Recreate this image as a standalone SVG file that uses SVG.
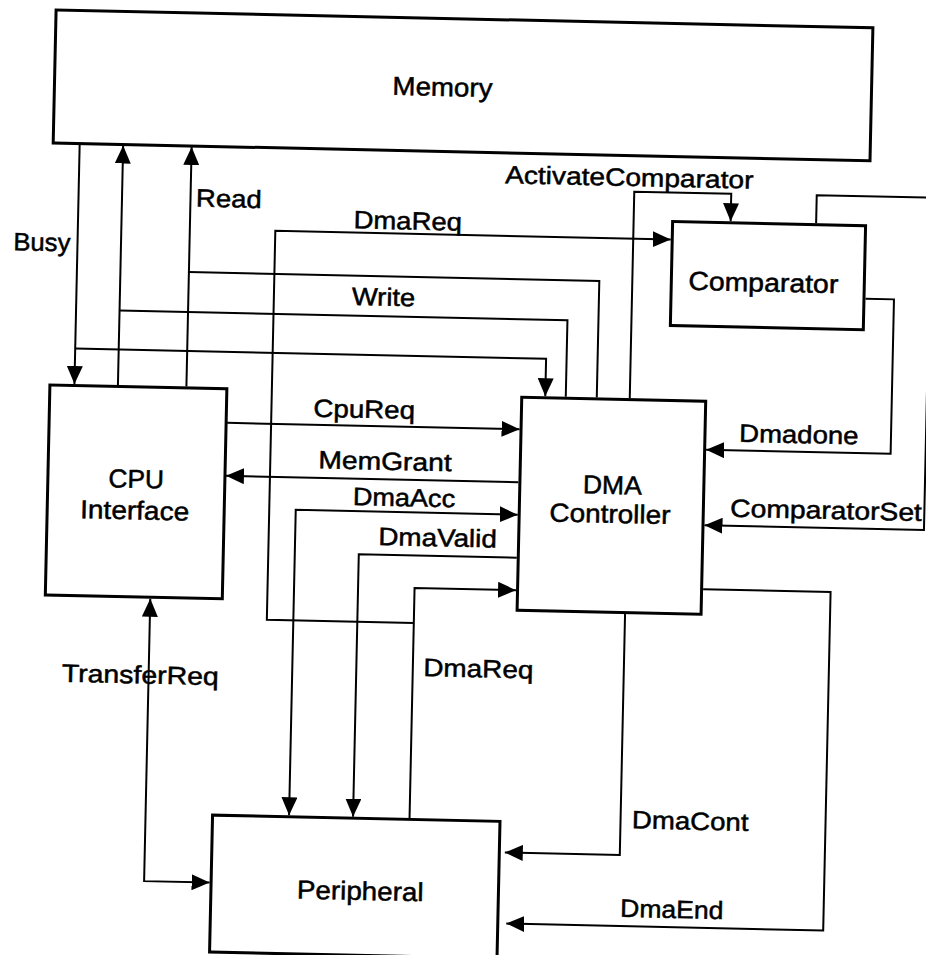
<svg xmlns="http://www.w3.org/2000/svg" width="926" height="955" viewBox="0 0 926 955">
<style>
.box{fill:#fff;stroke:#000;stroke-width:3}
.c{fill:none;stroke:#000;stroke-width:2}
.a{marker-end:url(#ah)}
.b{marker-start:url(#ah);marker-end:url(#ah)}
text{font-family:"Liberation Sans",Arial,Helvetica,sans-serif;fill:#000;stroke:#000;stroke-width:0.5}
.n{font-size:26px}
.l{font-size:25px}
</style>
<defs>
<marker id="ah" viewBox="0 0 18 16" markerWidth="18" markerHeight="16" refX="18" refY="8" orient="auto-start-reverse" markerUnits="userSpaceOnUse"><path d="M0,0 L18,8 L0,16 z" fill="#000"/></marker>
</defs>
<rect x="0" y="0" width="926" height="955" fill="#fff"/>
<g transform="rotate(1.25 463 477)">
<g id="connectors">
<path class="c a" d="M72.5,152 V392.5"/>
<path class="c a" d="M72.5,357 H543.5 V394.5"/>
<path class="c a" d="M116,392.5 V153"/>
<path class="c" d="M116,318 H564 V394.5"/>
<path class="c a" d="M184.5,392.5 V153"/>
<path class="c" d="M184.5,278 H595 V394.5"/>
<path class="c a" d="M628,394.5 V188 H725 V215.5"/>
<path class="c a" d="M417,819 V589 H518.5"/>
<path class="c a" d="M417,624 H270 V235 H665.5"/>
<path class="c a" d="M226,428 H518.5"/>
<path class="c a" d="M518.5,481 H226"/>
<path class="c b" d="M296.5,819 V513.5 H518.5"/>
<path class="c a" d="M518.5,556.5 H360.5 V819"/>
<path class="c b" d="M153,605.5 V888 H218.5"/>
<path class="c a" d="M861.5,290 H890 V444.5 H705.5"/>
<path class="c a" d="M810.5,215.5 V187.5 H925 V520 H705.5"/>
<path class="c a" d="M628,610.5 V851.5 H513"/>
<path class="c a" d="M705.5,584 H833 V922.5 H516"/>
</g>
<g id="labels">
<text class="l" x="8.4" y="260" textLength="57" lengthAdjust="spacingAndGlyphs">Busy</text>
<text class="l" x="190" y="212.5" textLength="65.7" lengthAdjust="spacingAndGlyphs">Read</text>
<text class="l" x="348" y="307.4" textLength="63.3" lengthAdjust="spacingAndGlyphs">Write</text>
<text class="l" x="348" y="230.7" textLength="108.4" lengthAdjust="spacingAndGlyphs">DmaReq</text>
<text class="l" x="498.6" y="182.4" textLength="248.3" lengthAdjust="spacingAndGlyphs">ActivateComparator</text>
<text class="l" x="312" y="420" textLength="101.7" lengthAdjust="spacingAndGlyphs">CpuReq</text>
<text class="l" x="318" y="471.5" textLength="133.4" lengthAdjust="spacingAndGlyphs">MemGrant</text>
<text class="l" x="353.3" y="507.4" textLength="102.3" lengthAdjust="spacingAndGlyphs">DmaAcc</text>
<text class="l" x="379.8" y="546.8" textLength="118.4" lengthAdjust="spacingAndGlyphs">DmaValid</text>
<text class="l" x="427.6" y="676.9" textLength="110" lengthAdjust="spacingAndGlyphs">DmaReq</text>
<text class="l" x="66.2" y="690.4" textLength="157" lengthAdjust="spacingAndGlyphs">TransferReq</text>
<text class="l" x="738.2" y="435.7" textLength="119.3" lengthAdjust="spacingAndGlyphs">Dmadone</text>
<text class="l" x="730.9" y="510.9" textLength="191.7" lengthAdjust="spacingAndGlyphs">ComparatorSet</text>
<text class="l" x="639.4" y="824.6" textLength="116.6" lengthAdjust="spacingAndGlyphs">DmaCont</text>
<text class="l" x="629.6" y="913.3" textLength="103.3" lengthAdjust="spacingAndGlyphs">DmaEnd</text>
</g>
<g id="memory">
<rect class="box" x="46" y="19" width="817" height="133"/>
<text class="n" x="384" y="96.5" textLength="100" lengthAdjust="spacingAndGlyphs">Memory</text>
</g>
<g id="cpu-interface">
<rect class="box" x="48" y="394" width="177" height="210"/>
<text class="n" x="108.5" y="495" textLength="55.7" lengthAdjust="spacingAndGlyphs">CPU</text>
<text class="n" x="81" y="526.5" textLength="109" lengthAdjust="spacingAndGlyphs">Interface</text>
</g>
<g id="dma-controller">
<rect class="box" x="520" y="396" width="184" height="213"/>
<text class="n" x="583" y="490.7" textLength="59" lengthAdjust="spacingAndGlyphs">DMA</text>
<text class="n" x="550.3" y="519.5" textLength="121" lengthAdjust="spacingAndGlyphs">Controller</text>
</g>
<g id="comparator">
<rect class="box" x="667" y="217" width="193" height="104"/>
<text class="n" x="684" y="285" textLength="150" lengthAdjust="spacingAndGlyphs">Comparator</text>
</g>
<g id="peripheral">
<rect class="box" x="220" y="820.5" width="287.5" height="137"/>
<text class="n" x="306" y="902" textLength="126.6" lengthAdjust="spacingAndGlyphs">Peripheral</text>
</g>
</g>
</svg>
